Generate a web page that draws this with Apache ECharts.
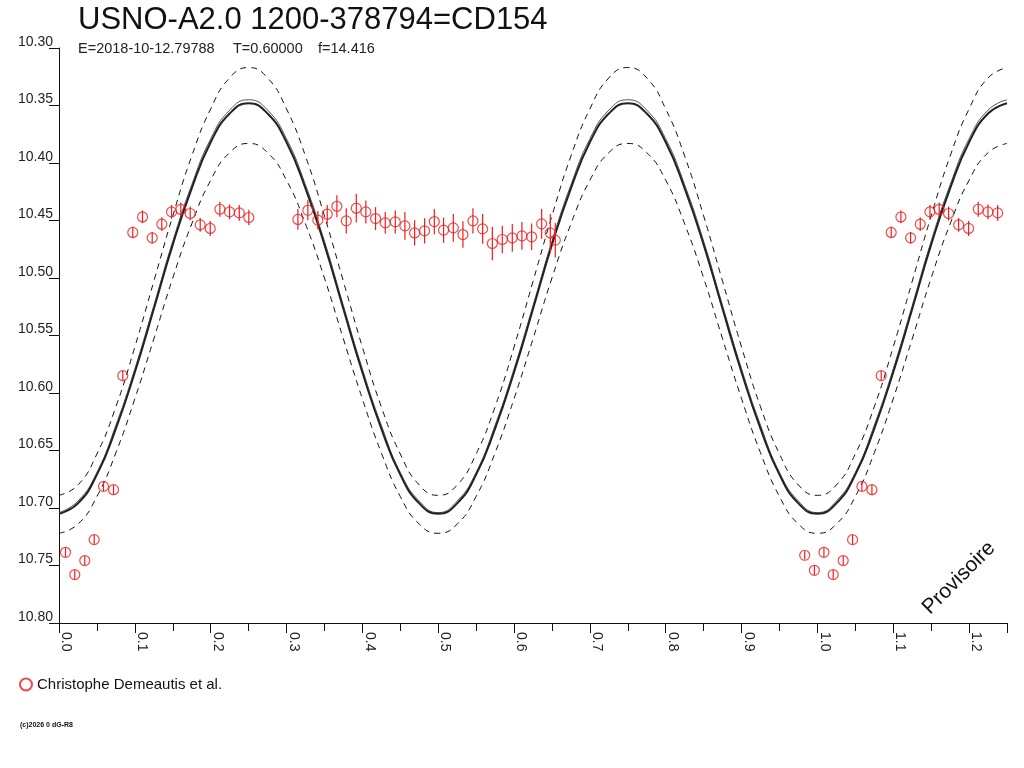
<!DOCTYPE html>
<html>
<head>
<meta charset="utf-8">
<script src="https://cdn.jsdelivr.net/npm/echarts@6/dist/echarts.min.js"></script>
<style>
  html, body { margin: 0; padding: 0; background: #fff; }
  #chart { width: 1024px; height: 768px; }
</style>
</head>
<body>
<div id="chart"></div>
<script>
// light curve, phase folded

var obsPhase = [0.0086,0.0208,0.0340,0.0464,0.0587,0.0719,0.0841,0.0973,0.1101,0.1229,
  0.1356,0.1484,0.1606,0.1730,0.1862,0.1994,0.2121,0.2249,0.2377,0.2503,
  0.3150,0.3281,0.3413,0.3537,0.3664,0.3788,0.3920,0.4046,0.4174,0.4302,
  0.4434,0.4561,0.4689,0.4821,0.4949,0.5071,0.5199,0.5326,0.5458,0.5586,
  0.5714,0.5845,0.5977,0.6104,0.6232,0.6364,0.6478,0.6544,0.9833,0.9960];

var obsMag = [10.7385,10.7579,10.7457,10.7275,10.6812,10.6841,10.5849,10.4604,10.4469,10.4651,
  10.4532,10.4425,10.4404,10.4439,10.4538,10.4569,10.4402,10.4425,10.4434,10.4474,
  10.4491,10.4411,10.4497,10.4445,10.4376,10.4503,10.4393,10.4425,10.4483,10.4521,
  10.4512,10.4547,10.4608,10.4590,10.4509,10.4584,10.4564,10.4622,10.4503,10.4573,
  10.4700,10.4665,10.4651,10.4634,10.4642,10.4529,10.4608,10.4671,10.7411,10.7542];

var obsErr = [0.004,0.004,0.004,0.004,0.004,0.004,0.004,0.005,0.0055,0.005,
  0.006,0.006,0.006,0.006,0.006,0.0065,0.0065,0.0065,0.0068,0.0068,
  0.009,0.0087,0.008,0.008,0.0095,0.011,0.0125,0.010,0.010,0.0095,
  0.010,0.012,0.011,0.011,0.011,0.011,0.012,0.0115,0.011,0.013,
  0.0145,0.012,0.012,0.012,0.0115,0.013,0.0165,0.015,0.004,0.004];

var modelPhase = [0,0.025,0.05,0.075,0.1,0.125,0.15,0.175,0.2,0.225,
  0.25,0.275,0.3,0.325,0.35,0.375,0.4,0.425,0.45,0.475,
  0.5,0.525,0.55,0.575,0.6,0.625,0.65,0.675,0.7,0.725,
  0.75,0.775,0.8,0.825,0.85,0.875,0.9,0.925,0.95,0.975,
  1.0,1.025,1.05,1.075,1.1,1.125,1.15,1.175,1.2,1.225,1.25];

var modelMain = [10.705,10.696,10.671,10.631,10.582,10.527,10.471,10.422,10.382,10.357,
  10.348,10.357,10.382,10.422,10.471,10.527,10.582,10.631,10.671,10.696,
  10.705,10.696,10.671,10.631,10.582,10.527,10.471,10.422,10.382,10.357,
  10.348,10.357,10.382,10.422,10.471,10.527,10.582,10.631,10.671,10.696,
  10.705,10.696,10.671,10.631,10.582,10.527,10.471,10.422,10.382,10.357,10.348];

var modelNear = [10.704,10.694,10.669,10.628,10.579,10.524,10.468,10.419,10.379,10.354,
  10.345,10.354,10.379,10.419,10.468,10.524,10.579,10.628,10.669,10.694,
  10.704,10.694,10.669,10.628,10.579,10.524,10.468,10.419,10.379,10.354,
  10.345,10.354,10.379,10.419,10.468,10.524,10.579,10.628,10.669,10.694,
  10.704,10.694,10.669,10.628,10.579,10.524,10.468,10.419,10.379,10.354,10.345];

var modelUpper = [10.689,10.680,10.653,10.612,10.560,10.503,10.446,10.394,10.353,10.326,
  10.317,10.326,10.353,10.394,10.446,10.503,10.560,10.612,10.653,10.680,
  10.689,10.680,10.653,10.612,10.560,10.503,10.446,10.394,10.353,10.326,
  10.317,10.326,10.353,10.394,10.446,10.503,10.560,10.612,10.653,10.680,
  10.689,10.680,10.653,10.612,10.560,10.503,10.446,10.394,10.353,10.326,10.317];

var modelLower = [10.722,10.714,10.690,10.652,10.605,10.553,10.500,10.453,10.415,10.391,
  10.383,10.391,10.415,10.453,10.500,10.553,10.605,10.652,10.690,10.714,
  10.722,10.714,10.690,10.652,10.605,10.553,10.500,10.453,10.415,10.391,
  10.383,10.391,10.415,10.453,10.500,10.553,10.605,10.652,10.690,10.714,
  10.722,10.714,10.690,10.652,10.605,10.553,10.500,10.453,10.415,10.391,10.383];

var observer = 'Christophe Demeautis et al.';
var FONT = 'Liberation Sans, Arial, sans-serif';
var RED = '#f01c1c';

function pairs(xs, ys) {
  var out = [];
  for (var i = 0; i < xs.length; i++) out.push([xs[i], ys[i]]);
  return out;
}

// every measure drawn at phase-1, phase and phase+1 when it falls in 0..1.25
var pts = [];
for (var i = 0; i < obsPhase.length; i++) {
  [-1, 0, 1].forEach(function (k) {
    var p = obsPhase[i] + k;
    if (p >= 0 && p <= 1.25) pts.push([p, obsMag[i], obsErr[i]]);
  });
}

var chart = echarts.init(document.getElementById('chart'));

var subStyle = { fontFamily: FONT, fontSize: 14.5, fontWeight: 'normal', color: '#222' };

var option = {
  animation: false,
  backgroundColor: '#fff',
  title: [
    { text: 'USNO-A2.0 1200-378794=CD154', left: 78, top: 5, padding: 0,
      textStyle: { fontFamily: FONT, fontSize: 31, fontWeight: 'normal', color: '#111' } },
    { text: 'E=2018-10-12.79788', left: 78, top: 41, padding: 0, textStyle: subStyle },
    { text: 'T=0.60000', left: 233, top: 41, padding: 0, textStyle: subStyle },
    { text: 'f=14.416', left: 318, top: 41, padding: 0, textStyle: subStyle }
  ],
  legend: {
    data: [observer],
    left: 19, top: 677, padding: 0,
    itemWidth: 12, itemHeight: 12, itemGap: 4,
    textStyle: { fontFamily: FONT, fontSize: 15, color: '#111' }
  },
  grid: { left: 59, right: 17, top: 48, bottom: 145 },
  xAxis: {
    type: 'value', min: 0, max: 1.25, interval: 0.1,
    splitLine: { show: false },
    axisLine: { onZero: false, lineStyle: { color: '#111', width: 1 } },
    axisTick: { length: 10, lineStyle: { color: '#111' } },
    minorTick: { show: true, splitNumber: 2, length: 8, lineStyle: { color: '#111' } },
    axisLabel: {
      rotate: -90, margin: 9, verticalAlign: 'bottom',
      fontFamily: FONT, fontSize: 14, color: '#222',
      formatter: function (v) {
        return Math.abs(v * 10 - Math.round(v * 10)) < 1e-6 ? v.toFixed(1) : '';
      }
    }
  },
  yAxis: {
    type: 'value', inverse: true, min: 10.30, max: 10.80, interval: 0.05,
    splitLine: { show: false },
    axisLine: { onZero: false, lineStyle: { color: '#111', width: 1 } },
    axisTick: { length: 10, lineStyle: { color: '#111' } },
    axisLabel: {
      margin: 6, verticalAlign: 'bottom', lineHeight: 12,
      fontFamily: FONT, fontSize: 14, color: '#222',
      formatter: function (v) { return v.toFixed(2); }
    }
  },
  graphic: [
    { type: 'text', x: 959, y: 578, rotation: Math.PI / 4,
      style: { text: 'Provisoire', font: '21px ' + FONT, fill: '#111',
               align: 'center', verticalAlign: 'middle' } },
    { type: 'text', left: 20, top: 722,
      style: { text: '(c)2026 0 dG-R8', font: 'bold 7px ' + FONT, fill: '#111' } }
  ],
  series: [
    { type: 'line', data: pairs(modelPhase, modelUpper), smooth: true, symbol: 'none',
      lineStyle: { color: '#111', width: 1, type: [6, 5] }, z: 2 },
    { type: 'line', data: pairs(modelPhase, modelLower), smooth: true, symbol: 'none',
      lineStyle: { color: '#111', width: 1, type: [6, 5] }, z: 2 },
    { type: 'line', data: pairs(modelPhase, modelNear), smooth: true, symbol: 'none',
      lineStyle: { color: '#555', width: 1 }, z: 2 },
    { type: 'line', data: pairs(modelPhase, modelMain), smooth: true, symbol: 'none',
      lineStyle: { color: '#222', width: 2 }, z: 3 },
    { name: observer, type: 'scatter', data: pts, symbol: 'circle', symbolSize: 10,
      itemStyle: { color: 'rgba(255,255,255,0)', borderColor: RED, borderWidth: 1.2 }, z: 5 },
    { type: 'custom', data: pts, z: 6, clip: true,
      renderItem: function (params, api) {
        var x = api.value(0), y = api.value(1), e = api.value(2);
        var a = api.coord([x, y - e]);
        var b = api.coord([x, y + e]);
        return { type: 'line', shape: { x1: a[0], y1: a[1], x2: b[0], y2: b[1] },
                 style: { stroke: RED, lineWidth: 1.2 } };
      } }
  ]
};

chart.setOption(option);
</script>
</body>
</html>
